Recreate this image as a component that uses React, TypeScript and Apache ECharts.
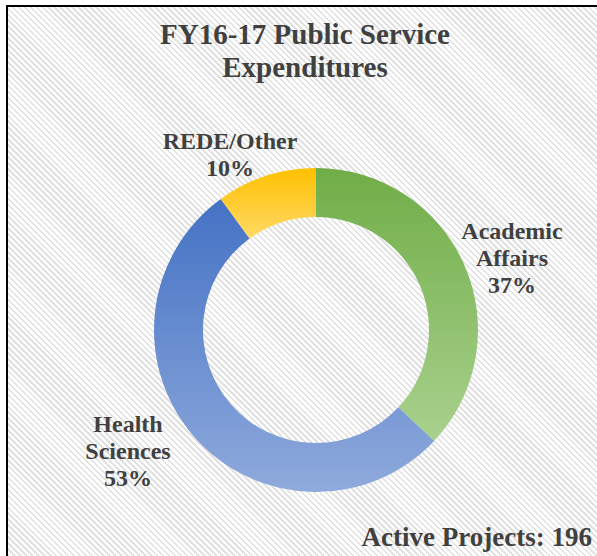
import React, { useEffect, useRef } from "react";
import * as echarts from "echarts";

const categories = ["Academic Affairs", "Health Sciences", "REDE/Other"];
const labelNames = ["Academic\nAffairs", "Health\nSciences", "REDE/Other"];
const values = [37, 53, 10];
const topColors = ["#70AD47", "#4472C4", "#FFC000"];
const bottomColors = ["#A9D18E", "#8FAADC", "#FFD966"];
const titleText = "FY16-17 Public Service\nExpenditures";
const footerText = "Active Projects: 196";

const labelPos = [
  { x: 512, y: 258 },
  { x: 128, y: 451 },
  { x: 230, y: 154 },
];

const FONT = "'Liberation Serif', 'Times New Roman', serif";
const TEXT = "#404040";

export default function App() {
  const ref = useRef<HTMLDivElement>(null);
  useEffect(() => {
    if (!ref.current) return;
    const chart = echarts.init(ref.current, null, { renderer: "svg" });
    const data = categories.map((c, i) => ({
      name: c,
      value: values[i],
      itemStyle: {
        color: new echarts.graphic.LinearGradient(0, 0, 0, 1, [
          { offset: 0, color: topColors[i] },
          { offset: 1, color: bottomColors[i] },
        ]),
      },
      label: {
        formatter: labelNames[i] + "\n" + values[i] + "%",
      },
    }));
    chart.setOption({
      animation: false,
      backgroundColor: "transparent",
      title: {
        text: titleText,
        left: 300,
        top: 12,
        textAlign: "center",
        textStyle: {
          fontFamily: FONT,
          fontWeight: "bold",
          fontSize: 29,
          lineHeight: 33,
          color: TEXT,
        },
      },
      graphic: [
        {
          type: "text",
          right: 5,
          top: 523,
          style: {
            text: footerText,
            font: "bold 27px " + FONT,
            fill: TEXT,
          },
        },
      ],
      series: [
        {
          type: "pie",
          center: [316, 330],
          radius: [113, 162],
          startAngle: 90,
          clockwise: true,
          data,
          label: {
            show: true,
            position: "outside",
            fontFamily: FONT,
            fontWeight: "bold",
            fontSize: 24,
            lineHeight: 27,
            color: TEXT,
            align: "center",
            overflow: "none",
            width: 200,
          },
          labelLine: { show: false },
          labelLayout: (p: any) => ({
            x: labelPos[p.dataIndex].x,
            y: labelPos[p.dataIndex].y,
            align: "center",
            verticalAlign: "middle",
          }),
          emphasis: { disabled: true },
        },
      ],
    });
    return () => chart.dispose();
  }, []);
  return (
    <div style={{ position: "absolute", left: 0, top: 0, width: 597, height: 556, overflow: "hidden", background: "#fff" }}>
      <div
        style={{
          position: "absolute",
          left: 6,
          top: 5,
          width: 620,
          height: 600,
          border: "2px solid #000",
          background:
            "repeating-linear-gradient(45deg, #ffffff 0px, #ffffff 2.4px, #e2e2e2 2.4px, #e2e2e2 4.2px)",
        }}
      />
      <div ref={ref} style={{ position: "absolute", left: 0, top: 0, width: 597, height: 556 }} />
    </div>
  );
}
